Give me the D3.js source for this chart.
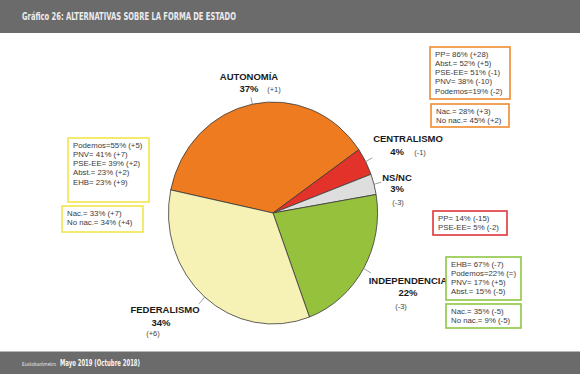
<!DOCTYPE html>
<html>
<head>
<meta charset="utf-8">
<script src="https://cdn.jsdelivr.net/npm/d3@7"></script>
<style>
  body { margin: 0; background: #fff; }
  svg { display: block; }
</style>
</head>
<body>
<script>
// categories in clockwise order, starting at the orange slice
var categories = ['AUTONOMÍA', 'CENTRALISMO', 'NS/NC', 'INDEPENDENCIA', 'FEDERALISMO'];
var values = [37, 4, 3, 22, 34];
var changes = ['(+1)', '(-1)', '(-3)', '(-3)', '(+6)'];
var sliceColors = ['#ee7b1f', '#e3322a', '#dedede', '#95c13d', '#f6f1b5'];

// party / identity breakdown boxes
var autonomiaParties = ['PP= 86% (+28)', 'Abst.= 52% (+5)', 'PSE-EE= 51% (-1)', 'PNV= 38% (-10)', 'Podemos=19% (-2)'];
var autonomiaNac = ['Nac.= 28% (+3)', 'No nac.= 45% (+2)'];
var federalParties = ['Podemos=55% (+5)', 'PNV= 41% (+7)', 'PSE-EE= 39% (+2)', 'Abst.= 23% (+2)', 'EHB= 23% (+9)'];
var federalNac = ['Nac.= 33% (+7)', 'No nac.= 34% (+4)'];
var centralParties = ['PP= 14% (-15)', 'PSE-EE= 5% (-2)'];
var indepParties = ['EHB= 67% (-7)', 'Podemos=22% (=)', 'PNV= 17% (+5)', 'Abst.= 15% (-5)'];
var indepNac = ['Nac.= 35% (-5)', 'No nac.= 9% (-5)'];

var title = 'Gráfico 26: ALTERNATIVAS SOBRE LA FORMA DE ESTADO';
var sourceLight = 'Euskobarómetro';
var sourceBold = 'Mayo 2019 (Octubre 2018)';

var width = 580, height = 374;

var svg = d3.select('body').append('svg')
    .attr('width', width)
    .attr('height', height);

var narrow = '"Liberation Sans Narrow", "DejaVu Sans Condensed", sans-serif';

// header / footer bars
svg.append('rect').attr('x', 0).attr('y', 0).attr('width', width).attr('height', 33).attr('fill', '#6b6b6b');
svg.append('text')
    .attr('x', 22).attr('y', 20)
    .attr('textLength', 214).attr('lengthAdjust', 'spacingAndGlyphs')
    .style('font-family', narrow)
    .style('font-size', '10.5px').style('font-weight', 'bold')
    .style('fill', '#ececec')
    .text(title);

svg.append('rect').attr('x', 0).attr('y', 351).attr('width', width).attr('height', 1).attr('fill', '#b5b5b5');
svg.append('rect').attr('x', 0).attr('y', 352).attr('width', width).attr('height', height - 352).attr('fill', '#6b6b6b');
svg.append('text')
    .attr('x', 22).attr('y', 366)
    .attr('textLength', 34).attr('lengthAdjust', 'spacingAndGlyphs')
    .style('font-family', narrow)
    .style('font-size', '5.2px').style('fill', '#eeeeee')
    .text(sourceLight);
svg.append('text')
    .attr('x', 60).attr('y', 366)
    .attr('textLength', 80).attr('lengthAdjust', 'spacingAndGlyphs')
    .style('font-family', narrow)
    .style('font-size', '8px').style('font-weight', 'bold').style('fill', '#f6f6f6')
    .text(sourceBold);

// pie (image is slightly squashed horizontally)
var cx = 273, cy = 213, radius = 111, squash = 0.942;
var startAngle = -78 * Math.PI / 180;

var pie = d3.pie().sort(null).value(function(d) { return d; })
    .startAngle(startAngle).endAngle(startAngle + 2 * Math.PI);
var arcs = pie(values);

var arc = d3.arc().innerRadius(0).outerRadius(radius);

var g = svg.append('g')
    .attr('transform', 'translate(' + cx + ',' + cy + ') scale(' + squash + ',1)');

g.selectAll('path.slice')
    .data(arcs)
    .enter().append('path')
    .attr('class', 'slice')
    .attr('d', arc)
    .attr('fill', function(d, i) { return sliceColors[i]; })
    .attr('stroke', '#3a3a3a')
    .attr('stroke-width', 0.8)
    .attr('vector-effect', 'non-scaling-stroke');

// leader ticks from the rim outward
var tickLen = [7, 8, 8, 9, 9];
g.selectAll('line.leader')
    .data(arcs)
    .enter().append('line')
    .attr('class', 'leader')
    .each(function(d, i) {
        var a = (d.startAngle + d.endAngle) / 2;
        d3.select(this)
            .attr('x1', Math.sin(a) * radius).attr('y1', -Math.cos(a) * radius)
            .attr('x2', Math.sin(a) * (radius + tickLen[i])).attr('y2', -Math.cos(a) * (radius + tickLen[i]));
    })
    .attr('stroke', '#777')
    .attr('stroke-width', 0.7)
    .attr('vector-effect', 'non-scaling-stroke');

// slice labels: [name x, name y, pct x, pct y, change x, change y]
var labelPos = [
    [249, 80, 249, 92, 274, 92],
    [408, 142, 397, 155, 420, 155],
    [397, 181, 397, 192, 398, 205],
    [408, 284, 408, 296, 401, 309],
    [165, 313, 161, 326, 153, 336]
];

var labels = svg.append('g')
    .style('font-family', '"Liberation Sans", Arial, sans-serif')
    .style('fill', '#1a1a1a');

categories.forEach(function(c, i) {
    var p = labelPos[i];
    labels.append('text').attr('x', p[0]).attr('y', p[1])
        .attr('text-anchor', 'middle')
        .style('font-size', '9.5px').style('font-weight', 'bold')
        .text(c);
    labels.append('text').attr('x', p[2]).attr('y', p[3])
        .attr('text-anchor', 'middle')
        .style('font-size', '9.5px').style('font-weight', 'bold')
        .text(values[i] + '%');
    labels.append('text').attr('x', p[4]).attr('y', p[5])
        .attr('text-anchor', 'middle')
        .style('font-size', '7.5px').style('fill', '#444')
        .text(changes[i]);
});

// annotation boxes
var boxes = [
    { lines: autonomiaParties, x: 430, y: 47, w: 80, h: 52, color: '#ef8a30' },
    { lines: autonomiaNac, x: 431, y: 104, w: 78, h: 23, color: '#ef8a30' },
    { lines: federalParties, x: 68, y: 138, w: 81, h: 64, color: '#f2e64a' },
    { lines: federalNac, x: 62, y: 206, w: 81, h: 26, color: '#f2e64a' },
    { lines: centralParties, x: 433, y: 211, w: 74, h: 24, color: '#e0353a' },
    { lines: indepParties, x: 446, y: 257, w: 75, h: 43, color: '#8fc645' },
    { lines: indepNac, x: 446, y: 304, w: 75, h: 24, color: '#8fc645' }
];

var bg = svg.selectAll('g.box')
    .data(boxes)
    .enter().append('g')
    .attr('class', 'box')
    .attr('transform', function(d) { return 'translate(' + d.x + ',' + d.y + ')'; });

bg.append('rect')
    .attr('width', function(d) { return d.w; })
    .attr('height', function(d) { return d.h; })
    .attr('fill', '#fff')
    .attr('stroke', function(d) { return d.color; })
    .attr('stroke-width', 1.6);

bg.each(function(d) {
    var t = d3.select(this).append('text')
        .style('font-family', '"Liberation Sans", Arial, sans-serif')
        .style('font-size', '7.8px')
        .style('fill', '#3a3a3a');
    d.lines.forEach(function(line, j) {
        t.append('tspan').attr('x', 5).attr('y', 9.5 + j * 9.3).text(line);
    });
});
</script>
</body>
</html>
